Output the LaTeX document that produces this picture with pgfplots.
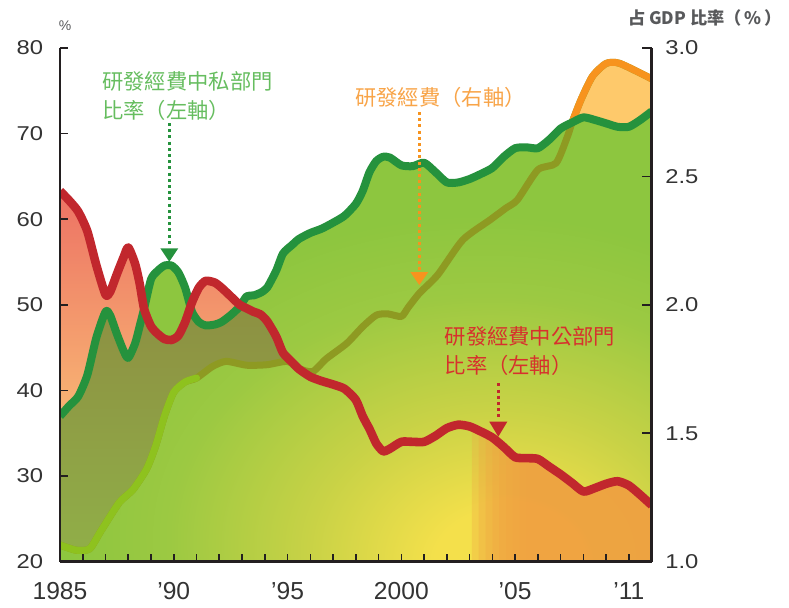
\documentclass[border=0pt]{standalone}
\usepackage{fontspec}
\setmainfont{Liberation Sans}
\newfontfamily\ylabfont[FakeStretch=1.19]{Liberation Sans}
\newfontfamily\cjk{Noto Sans CJK TC}
\usepackage{pgfplots}
\pgfplotsset{compat=1.18}
\usepackage{pgfplotstable}
\usepgfplotslibrary{fillbetween}

\definecolor{cGrn}{HTML}{8DC63F}
\definecolor{cGM}{HTML}{9CC942}
\definecolor{cYG}{HTML}{C8D246}
\definecolor{cYel}{HTML}{F4E04B}
\definecolor{cSalT}{HTML}{ED7264}
\definecolor{cSalB}{HTML}{FFE07D}
\definecolor{cOlT}{HTML}{8D9042}
\definecolor{cOlB}{HTML}{90AE48}
\definecolor{cLtOr}{HTML}{FEC96B}
\definecolor{cOrM}{HTML}{F0A241}
\definecolor{cOlv}{HTML}{8E9A22}
\definecolor{cYG2}{HTML}{8EC21E}
\definecolor{cOr}{HTML}{F7931E}
\definecolor{cGL}{HTML}{25923D}
\definecolor{cRL}{HTML}{C1272D}
\definecolor{cGT}{HTML}{66BD5F}
\definecolor{cOT}{HTML}{F8A448}
\definecolor{cRT}{HTML}{D7312D}
\definecolor{axisc}{HTML}{231F20}
\definecolor{labc}{HTML}{333333}
\definecolor{ttlc}{HTML}{58595B}

\pgfdeclareradialshading{bgshade}{\pgfpoint{13bp}{-26bp}}{%
  color(0bp)=(cYel); color(6bp)=(cYel); color(16bp)=(cYG);
  color(27bp)=(cGM); color(35bp)=(cGrn); color(200bp)=(cGrn)}

\pgfplotstableread{
x R G
1985.0 63.3 37.0
1985.4 62.2 38.2
1985.8 60.9 39.3
1986.2 58.6 41.8
1986.6 54.6 46.2
1987.0 51.2 49.2
1987.2 51.5 48.8
1987.5 53.6 46.6
1987.8 55.6 44.6
1988.0 56.7 43.8
1988.3 54.8 45.5
1988.5 52.5 47.5
1988.7 49.5 49.6
1989.0 47.5 53.0
1989.3 46.6 54.0
1989.6 46.0 54.6
1989.9 45.9 54.6
1990.2 46.4 53.8
1990.5 48.0 52.0
1990.8 50.3 49.2
1991.1 52.0 48.0
1991.4 52.8 47.6
1991.8 52.6 47.7
1992.1 52.0 48.0
1992.5 51.0 48.8
1992.9 50.0 49.8
1993.2 49.6 51.0
1993.5 49.2 51.1
1993.8 48.9 51.4
1994.1 48.1 52.0
1994.5 46.3 54.0
1994.8 44.4 56.0
1995.2 43.3 57.0
1995.5 42.5 57.7
1996.0 41.6 58.4
1996.5 41.1 58.9
1997.0 40.7 59.6
1997.5 40.2 60.4
1998.0 38.9 61.8
1998.3 37.0 63.3
1998.6 35.5 65.5
1998.9 33.8 66.8
1999.2 32.9 67.3
1999.5 33.2 67.2
2000.0 34.0 66.3
2000.5 34.0 66.2
2001.0 34.0 66.6
2001.5 34.7 65.5
2002.0 35.6 64.3
2002.5 36.0 64.3
2003.0 35.8 64.7
2003.5 35.2 65.3
2004.0 34.5 66.0
2004.5 33.4 67.3
2005.0 32.2 68.3
2005.5 32.1 68.4
2006.0 32.0 68.3
2006.5 31.1 69.3
2007.0 30.2 70.6
2007.5 29.2 71.3
2008.0 28.2 71.9
2008.5 28.6 71.6
2009.0 29.1 71.2
2009.5 29.4 70.8
2010.0 28.9 70.8
2010.5 27.8 71.6
2011.0 26.6 72.6
}\main

\pgfplotstableread{
x r
1985.0 1.065
1985.7 1.045
1986.3 1.05
1986.8 1.12
1987.6 1.23
1988.2 1.28
1988.8 1.36
1989.2 1.45
1989.6 1.57
1990.0 1.66
1990.5 1.70
1991.0 1.715
1991.7 1.76
1992.3 1.78
1993.2 1.765
1994.1 1.767
1995.0 1.78
1995.5 1.752
1996.1 1.74
1996.7 1.79
1997.6 1.85
1998.3 1.915
1998.9 1.96
1999.4 1.965
2000.0 1.955
2000.3 1.99
2000.8 2.046
2001.6 2.117
2002.7 2.253
2003.9 2.331
2004.6 2.377
2005.1 2.409
2006.0 2.526
2006.8 2.552
2007.3 2.656
2007.5 2.71
2007.9 2.80
2008.4 2.89
2009.0 2.94
2009.6 2.94
2011.0 2.88
}\orng

\begin{document}
\begin{tikzpicture}
\begin{axis}[
  at={(0,0)}, anchor=south west,
  scale only axis, width=295.85pt, height=256.85pt,
  xmin=1985, xmax=2011, ymin=20, ymax=80,
  axis x line=bottom, axis y line=left,
  axis line style={-, line width=1.4pt, color=axisc},
  tick align=inside,
  major tick length=4pt,
  every tick/.style={line width=0.8pt, color=axisc},
  xtick={1985,...,2010},
  xticklabels={1985,,,,,’90,,,,,’95,,,,,2000,,,,,’05,,,,,’11},
  ytick={20,30,40,50,60,70,80},
  yticklabels={20,30,40,50,60,70,80},
  xticklabel style={font=\fontsize{12.3}{14}\selectfont, text=labc, anchor=north, inner sep=0pt, yshift=-10pt},
  yticklabel style={font=\ylabfont\fontsize{10}{12}\selectfont, text=labc, anchor=east, inner sep=0pt, xshift=-8.3pt},
  set layers, axis on top,
]
% light orange area under R&D expenditure line
\addplot[on layer=axis background, draw=none, fill=cLtOr] table[x=x, y expr={20+30*(\thisrow{r}-1)}]{\orng} \closedcycle;
% public share area (salmon)
\addplot[on layer=axis background, draw=none, top color=cSalT, bottom color=cSalB, restrict x to domain=1985:1993.5] table[x=x, y=R]{\main} \closedcycle;
% private share area (green with yellow glow)
\addplot[on layer=axis background, draw=none, shade, shading=bgshade] table[x=x, y=G]{\main} \closedcycle;
% helper paths
\addplot[draw=none, name path=mn, restrict x to domain=1985:1996.5] table[x=x, y expr={min(\thisrow{R},\thisrow{G})}]{\main};
\addplot[draw=none, name path=orl] table[x=x, y expr={20+30*(\thisrow{r}-1)}]{\orng};
\addplot[draw=none, name path=rl] table[x=x, y=R]{\main};
\addplot[draw=none, name path=bot] coordinates {(1985,20) (2011,20)};
% overlap (olive)
\addplot[draw=none, top color=cOlT, bottom color=cOlB] fill between[of=mn and orl, soft clip={domain=1985:1995.5}];
% public share area, late part (orange glow, fading in from the left)
\addplot[draw=none, fill=cOrM, fill opacity=0.28] fill between[of=rl and bot, soft clip={domain=2003.1:2011}];
\addplot[draw=none, fill=cOrM, fill opacity=0.28] fill between[of=rl and bot, soft clip={domain=2003.4:2011}];
\addplot[draw=none, fill=cOrM, fill opacity=0.28] fill between[of=rl and bot, soft clip={domain=2003.7:2011}];
\addplot[draw=none, fill=cOrM, fill opacity=0.28] fill between[of=rl and bot, soft clip={domain=2004.0:2011}];
\addplot[draw=none, fill=cOrM, fill opacity=0.28] fill between[of=rl and bot, soft clip={domain=2004.3:2011}];
\addplot[draw=none, fill=cOrM, fill opacity=0.28] fill between[of=rl and bot, soft clip={domain=2004.6:2011}];
\addplot[draw=none, fill=cOrM, fill opacity=0.28] fill between[of=rl and bot, soft clip={domain=2004.9:2011}];
\addplot[draw=none, fill=cOrM, fill opacity=0.28] fill between[of=rl and bot, soft clip={domain=2005.2:2011}];
\addplot[draw=none, fill=cOrM, fill opacity=0.28] fill between[of=rl and bot, soft clip={domain=2005.5:2011}];
% R&D expenditure line
\addplot[cOlv, line width=3.5pt, smooth, tension=0.4, line join=round] table[x=x, y expr={20+30*(\thisrow{r}-1)}]{\orng};
\addplot[cYG2, line width=3.5pt, smooth, tension=0.4, line join=round, line cap=round, restrict x to domain=1985:1991.3] table[x=x, y expr={20+30*(\thisrow{r}-1)}]{\orng};
\addplot[cOr, line width=3.5pt, smooth, tension=0.4, line join=round, restrict x to domain=2007.45:2011] table[x=x, y expr={20+30*(\thisrow{r}-1)}]{\orng};
% private share line
\addplot[cGL, line width=4pt, smooth, tension=0.4, line join=round] table[x=x, y=G]{\main};
% public share line
\addplot[cRL, line width=4.3pt, smooth, tension=0.4, line join=round] table[x=x, y=R]{\main};
\end{axis}
\begin{axis}[
  at={(0,0)}, anchor=south west,
  scale only axis, width=295.85pt, height=256.85pt,
  xmin=1985, xmax=2011, ymin=1, ymax=3,
  axis x line=none, axis y line=right,
  axis line style={-, line width=1.4pt, color=axisc},
  tick align=inside,
  major tick length=5pt,
  every tick/.style={line width=0.8pt, color=axisc},
  xtick=\empty,
  ytick={1,1.5,2,2.5,3},
  yticklabels={1.0,1.5,2.0,2.5,3.0},
  yticklabel style={font=\ylabfont\fontsize{10}{12}\selectfont, text=labc, anchor=west, inner sep=0pt, xshift=6.65pt},
]
\addplot[draw=none] table[x=x, y=r]{\orng};
\end{axis}
% annotations
\draw[cGL, line width=1.5pt, dash pattern=on 1.5pt off 1.6pt] (54.65pt,219.35pt) -- (54.65pt,157.5pt);
\fill[cGL] (50.15pt,156.7pt) -- (59.15pt,156.7pt) -- (54.65pt,150pt) -- cycle;
\node[anchor=west, inner sep=0pt, text=cGT, font=\cjk\fontsize{10.65}{12}\selectfont] at (21pt,240.35pt) {研發經費中私部門};
\node[anchor=west, inner sep=0pt, text=cGT, font=\cjk\fontsize{10.65}{12}\selectfont] at (21pt,225.85pt) {比率（左軸）};

\draw[cOr, line width=1.5pt, dash pattern=on 1.5pt off 1.6pt] (179.65pt,224.85pt) -- (179.65pt,145.5pt);
\fill[cOr] (175.15pt,144.85pt) -- (184.15pt,144.85pt) -- (179.65pt,138.35pt) -- cycle;
\node[anchor=west, inner sep=0pt, text=cOT, font=\cjk\fontsize{10.65}{12}\selectfont] at (147.5pt,232.35pt) {研發經費（右軸）};

\draw[cRL, line width=1.5pt, dash pattern=on 1.5pt off 1.6pt] (219.15pt,89.2pt) -- (219.15pt,70.6pt);
\fill[cRL] (214.65pt,70pt) -- (223.65pt,70pt) -- (219.15pt,62.5pt) -- cycle;
\node[anchor=west, inner sep=0pt, text=cRT, font=\cjk\fontsize{10.65}{12}\selectfont] at (192.15pt,112.5pt) {研發經費中公部門};
\node[anchor=west, inner sep=0pt, text=cRT, font=\cjk\fontsize{10.65}{12}\selectfont] at (192.15pt,98.35pt) {比率（左軸）};

\node[inner sep=0pt, text=ttlc, font=\fontsize{7}{8}\selectfont] at (2.5pt,268pt) {\%};
\node[inner sep=0pt, text=ttlc, font=\cjk\bfseries\fontsize{8.6}{9}\selectfont] at (322.5pt,272pt) {占 GDP 比率（\,\%\,）};
\pgfresetboundingbox
\path[use as bounding box] (-30pt,-22.65pt) rectangle (364.5pt,280.85pt);
\end{tikzpicture}
\end{document}
